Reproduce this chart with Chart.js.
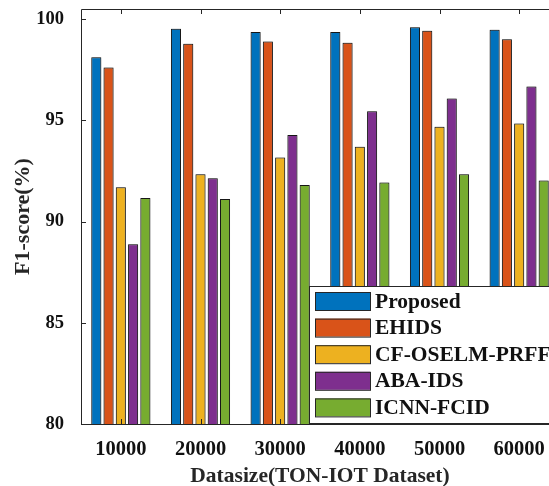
<!DOCTYPE html>
<html>
<head>
<meta charset="utf-8">
<script src="https://cdn.jsdelivr.net/npm/chart.js@4/dist/chart.umd.min.js"></script>
<style>
  html, body { margin: 0; padding: 0; background: #fff; overflow: hidden; }
  #wrap { width: 600px; height: 486px; }
</style>
</head>
<body>
<div id="wrap"><canvas id="c" width="600" height="486"></canvas></div>
<script>
// F1-score per data size on the TON-IOT dataset
const categories = ['10000', '20000', '30000', '40000', '50000', '60000'];
const proposed = [98.12, 99.52, 99.36, 99.36, 99.60, 99.47];
const ehids    = [97.61, 98.78, 98.89, 98.83, 99.42, 99.01];
const cfOselm  = [91.70, 92.34, 93.16, 93.69, 94.68, 94.84];
const abaIds   = [88.88, 92.14, 94.27, 95.45, 96.08, 96.67];
const icnnFcid = [91.16, 91.11, 91.81, 91.93, 92.34, 92.03];
const yTicks = [80, 85, 90, 95, 100];

const seriesNames = ['Proposed', 'EHIDS', 'CF-OSELM-PRFF', 'ABA-IDS', 'ICNN-FCID'];
const seriesData = [proposed, ehids, cfOselm, abaIds, icnnFcid];
const seriesColors = ['#0072BD', '#D95319', '#EDB120', '#7E2F8E', '#77AC30'];

const FONT = '"Liberation Serif", "Times New Roman", serif';
const INK = '#262626';

// Soft grey halo around the bars
const barHalo = {
  id: 'barHalo',
  beforeDatasetsDraw(chart) {
    const ctx = chart.ctx;
    ctx.save();
    ctx.shadowColor = 'rgba(0,0,0,0.45)';
    ctx.shadowBlur = 3;
    ctx.shadowOffsetX = 0;
  },
  afterDatasetsDraw(chart) {
    chart.ctx.restore();
  }
};

// Box frame with inward tick marks
const frame = {
  id: 'frame',
  afterDatasetsDraw(chart) {
    const { ctx, chartArea: a, scales } = chart;
    ctx.save();
    ctx.strokeStyle = INK;
    ctx.lineWidth = 1;
    ctx.beginPath();
    ctx.moveTo(a.right + 0.5, Math.round(a.top) + 0.5);
    ctx.lineTo(Math.round(a.left) + 0.5, Math.round(a.top) + 0.5);
    ctx.lineTo(Math.round(a.left) + 0.5, Math.round(a.bottom) + 0.5);
    ctx.lineTo(a.right + 0.5, Math.round(a.bottom) + 0.5);
    ctx.stroke();
    const tl = 5;
    ctx.beginPath();
    scales.y.ticks.forEach(t => {
      const y = Math.round(scales.y.getPixelForValue(t.value)) + 0.5;
      ctx.moveTo(a.left, y);
      ctx.lineTo(a.left + tl, y);
    });
    scales.x.ticks.forEach((t, i) => {
      const x = Math.round(scales.x.getPixelForTick(i)) + 0.5;
      ctx.moveTo(x, a.top);
      ctx.lineTo(x, a.top + tl);
      ctx.moveTo(x, a.bottom);
      ctx.lineTo(x, a.bottom - tl);
    });
    ctx.stroke();
    ctx.restore();
  }
};

// Legend box in the lower right of the plot
const boxLegend = {
  id: 'boxLegend',
  afterDraw(chart) {
    const ctx = chart.ctx;
    const x0 = 309.5, y0 = 286.5, x1 = 600, y1 = 423.5;
    ctx.save();
    ctx.fillStyle = '#fff';
    ctx.fillRect(x0, y0, x1 - x0, y1 - y0);
    ctx.strokeStyle = INK;
    ctx.lineWidth = 1;
    ctx.strokeRect(x0, y0, x1 - x0, y1 - y0);
    ctx.font = 'bold 21.5px ' + FONT;
    ctx.textBaseline = 'middle';
    ctx.textAlign = 'left';
    chart.data.datasets.forEach((ds, i) => {
      const by = 292 + i * 26.6;
      ctx.fillStyle = ds.backgroundColor;
      ctx.fillRect(315, by, 55, 18);
      ctx.strokeStyle = INK;
      ctx.strokeRect(315.5, by + 0.5, 55, 18);
      ctx.fillStyle = '#111';
      ctx.fillText(ds.label, 375, by + 10);
    });
    ctx.restore();
  }
};

new Chart(document.getElementById('c'), {
  type: 'bar',
  data: {
    labels: categories,
    datasets: seriesNames.map((name, i) => ({
      label: name,
      data: seriesData[i],
      backgroundColor: seriesColors[i],
      borderColor: '#1a1a1a',
      borderWidth: 1,
      borderSkipped: false,
      categoryPercentage: 0.77,
      barPercentage: 0.82
    }))
  },
  options: {
    responsive: false,
    animation: false,
    devicePixelRatio: 1,
    layout: { padding: { left: 0, top: 9, right: 41, bottom: 0 } },
    plugins: { legend: { display: false }, tooltip: { enabled: false } },
    scales: {
      x: {
        grid: { display: false, drawTicks: false },
        border: { display: false },
        ticks: { color: '#111', padding: 13, font: { family: FONT, size: 20.5, weight: 'bold' } },
        title: {
          display: true,
          text: 'Datasize(TON-IOT Dataset)',
          color: INK,
          padding: { top: 0, bottom: -3 },
          font: { family: FONT, size: 21.5, weight: 'bold' }
        },
        afterFit(s) { s.height = 62; s.paddingLeft = 0; s.paddingRight = 0; }
      },
      y: {
        min: 80,
        max: 100.5,
        grid: { display: false, drawTicks: false },
        border: { display: false },
        afterBuildTicks(s) { s.ticks = yTicks.map(v => ({ value: v })); },
        ticks: { color: '#111', padding: 17, font: { family: FONT, size: 18.5, weight: 'bold' } },
        title: {
          display: true,
          text: 'F1-score(%)',
          color: INK,
          padding: { top: 10, bottom: 0 },
          font: { family: FONT, size: 22, weight: 'bold' }
        },
        afterFit(s) { s.width = 81; s.paddingTop = 0; s.paddingBottom = 0; }
      }
    }
  },
  plugins: [barHalo, frame, boxLegend]
});
</script>
</body>
</html>
